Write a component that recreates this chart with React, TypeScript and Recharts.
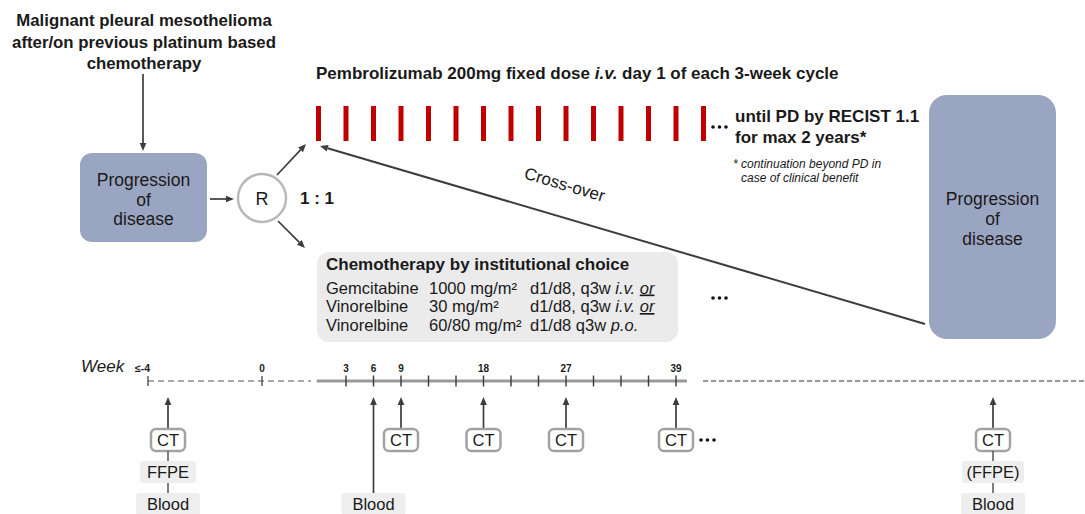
import React from 'react';
import {
  ComposedChart,
  XAxis,
  YAxis,
  Scatter,
  ReferenceArea,
  ReferenceLine,
  ReferenceDot,
} from 'recharts';

const WIDTH = 1085;
const HEIGHT = 514;
const FONT = '"Liberation Sans", Arial, Helvetica, sans-serif';
const INK = '#1a1a1a';
const ARROW = '#3d3d3d';
const SLATE = '#9aa5c1';
const RED = '#c00000';

// ---- content ----
const populationLines = ['Malignant pleural mesothelioma', 'after/on previous platinum based', 'chemotherapy'];
const progressionLines = ['Progression', 'of', 'disease'];
const randomisation = 'R';
const allocationRatio = '1 : 1';
const pembroTitle = ['Pembrolizumab 200mg fixed dose ', 'i.v.', ' day 1 of each 3-week cycle'];
const pembroWeeks = [0, 3, 6, 9, 12, 15, 18, 21, 24, 27, 30, 33, 36, 39, 42];
const pembroUntil = ['until PD by RECIST 1.1', 'for max 2 years*'];
const pembroFootnote = ['* continuation beyond PD in', 'case of clinical benefit'];
const chemoTitle = 'Chemotherapy by institutional choice';
const chemoDrugs = ['Gemcitabine', 'Vinorelbine', 'Vinorelbine'];
const chemoDoses = ['1000 mg/m²', '30 mg/m²', '60/80 mg/m²'];
const chemoSchedules = ['d1/d8, q3w ', 'd1/d8, q3w ', 'd1/d8 q3w '];
const chemoRoutes = ['i.v.', 'i.v.', 'p.o.'];
const chemoAlternatives = [true, true, false];
const crossOverLabel = 'Cross-over';
const weekLabel = 'Week';
const baselineLabels = ['≤-4', '0'];
const timelineWeeks = [3, 6, 9, 12, 15, 18, 21, 24, 27, 30, 33, 36, 39];
const labelledWeeks = [3, 6, 9, 18, 27, 39];
const ctWeeks = [9, 18, 27, 39];
const bloodOnlyWeeks = [6];
const screeningSamples = ['CT', 'FFPE', 'Blood'];
const progressionSamples = ['CT', '(FFPE)', 'Blood'];

// ---- layout ----
// week axis: week 3 sits at x=346, week 39 at x=676 (schematic, pre-baseline drawn separately)
const PX_PER_WEEK = 330 / 36;
const WEEK_DOMAIN: [number, number] = [3 - 346 / PX_PER_WEEK, 39 + (WIDTH - 676) / PX_PER_WEEK];
const PEMBRO_Y = 123.5;
const TIMELINE_Y = 381;
const ARROW_TIP_Y = 397;
const SAMPLE_ROWS = [440, 472, 504];
const SAMPLE_W: Record<string, number> = { CT: 34, FFPE: 56, '(FFPE)': 62, Blood: 64 };

const ts = (size: number, weight: string = 'normal', style: string = 'normal') => ({
  fontFamily: FONT,
  fontSize: size,
  fontWeight: weight,
  fontStyle: style,
  fill: INK,
});

function textLines(items: string[], cx: number, cy: number, lh: number, style: any, anchor: any = 'middle') {
  const n = items.length;
  return items.map((s, i) => (
    <text key={i} x={cx} y={cy + (i - (n - 1) / 2) * lh + style.fontSize * 0.36} textAnchor={anchor} {...style}>
      {s}
    </text>
  ));
}

function arrowShape(color = ARROW, width = 1.7, head = 8) {
  return (p: any) => {
    const { x1, y1, x2, y2 } = p;
    const a = Math.atan2(y2 - y1, x2 - x1);
    const bx = x2 - head * Math.cos(a);
    const by = y2 - head * Math.sin(a);
    const nx = -Math.sin(a) * head * 0.42;
    const ny = Math.cos(a) * head * 0.42;
    return (
      <g>
        <line x1={x1} y1={y1} x2={bx} y2={by} stroke={color} strokeWidth={width} />
        <polygon points={`${x2},${y2} ${bx + nx},${by + ny} ${bx - nx},${by - ny}`} fill={color} />
      </g>
    );
  };
}

function arrow(key: string, x1: number, y1: number, x2: number, y2: number, width = 1.7) {
  return (
    <ReferenceLine
      key={key}
      xAxisId="px"
      yAxisId="px"
      ifOverflow="visible"
      segment={[{ x: x1, y: y1 }, { x: x2, y: y2 }]}
      shape={arrowShape(ARROW, width)}
    />
  );
}

function rule(key: string, x1: number, y1: number, x2: number, y2: number, stroke: string, width: number, dash?: string) {
  return (
    <ReferenceLine
      key={key}
      xAxisId="px"
      yAxisId="px"
      ifOverflow="visible"
      segment={[{ x: x1, y: y1 }, { x: x2, y: y2 }]}
      stroke={stroke}
      strokeWidth={width}
      strokeDasharray={dash}
    />
  );
}

function panel(
  key: string,
  x1: number,
  y1: number,
  x2: number,
  y2: number,
  fill: string,
  rx: number,
  content?: (r: any) => React.ReactNode,
) {
  return (
    <ReferenceArea
      key={key}
      xAxisId="px"
      yAxisId="px"
      x1={x1}
      x2={x2}
      y1={y1}
      y2={y2}
      ifOverflow="visible"
      shape={(p: any) => (
        <g>
          <rect x={p.x} y={p.y} width={p.width} height={p.height} rx={rx} fill={fill} />
          {content ? content(p) : null}
        </g>
      )}
    />
  );
}

function note(key: string, x: number, y: number, render: (cx: number, cy: number) => React.ReactElement) {
  return (
    <ReferenceDot
      key={key}
      xAxisId="px"
      yAxisId="px"
      x={x}
      y={y}
      r={1}
      ifOverflow="visible"
      shape={(p: any) => render(p.cx, p.cy)}
    />
  );
}

function ellipsis(cx: number, cy: number) {
  return (
    <g>
      {[0, 6.5, 13].map((d) => (
        <circle key={d} cx={cx + d} cy={cy} r={1.8} fill="#111" />
      ))}
    </g>
  );
}

// arrow up to the timeline, then stacked sample boxes (CT framed, others shaded)
function sampleStack(cx: number, samples: string[], firstRow = 0) {
  const top = SAMPLE_ROWS[firstRow] - 11;
  return (
    <g>
      {arrowShape(ARROW, 1.7, 8)({ x1: cx, y1: top, x2: cx, y2: ARROW_TIP_Y })}
      {samples.map((s, i) => {
        const row = SAMPLE_ROWS[firstRow + i];
        const w = SAMPLE_W[s] ?? 60;
        const framed = s === 'CT';
        return (
          <g key={s}>
            {i > 0 ? (
              <line x1={cx} y1={SAMPLE_ROWS[firstRow + i - 1] + 11} x2={cx} y2={row - 11} stroke="#555" strokeWidth={1.5} />
            ) : null}
            <rect
              x={cx - w / 2}
              y={row - 11}
              width={w}
              height={22}
              rx={framed ? 5 : 3}
              fill={framed ? '#ffffff' : '#eeeeee'}
              stroke={framed ? '#a3a3a3' : 'none'}
              strokeWidth={framed ? 2.5 : 0}
            />
            <text x={cx} y={row + 6} textAnchor="middle" {...ts(16.5)}>
              {s}
            </text>
          </g>
        );
      })}
    </g>
  );
}

export default function App() {
  return (
    <div style={{ position: 'absolute', left: 0, top: 0, width: WIDTH, height: HEIGHT, background: '#ffffff' }}>
      <ComposedChart width={WIDTH} height={HEIGHT} margin={{ top: 0, right: 0, bottom: 0, left: 0 }}>
        <XAxis xAxisId="px" type="number" dataKey="x" domain={[0, WIDTH]} allowDataOverflow hide />
        <XAxis xAxisId="week" type="number" dataKey="week" domain={WEEK_DOMAIN} allowDataOverflow hide />
        <YAxis yAxisId="px" type="number" dataKey="y" domain={[0, HEIGHT]} allowDataOverflow reversed hide />

        {/* population and first progression */}
        {note('population', 144, 41.5, (cx, cy) => <g>{textLines(populationLines, cx, cy, 21.5, ts(16.8, 'bold'))}</g>)}
        {arrow('pop-arrow', 143, 74, 143, 151)}
        {panel('pd-left', 80, 153, 207, 242, SLATE, 12, (r) => (
          <g>{textLines(progressionLines, r.x + r.width / 2, r.y + r.height / 2 + 2, 19.5, ts(17.5))}</g>
        ))}
        {arrow('to-r', 210, 199, 234, 199)}
        {note('rand', 262, 198, (cx, cy) => (
          <g>
            <circle cx={cx} cy={cy} r={24} fill="#fff" stroke="#b8b8b8" strokeWidth={2.5} />
            <text x={cx} y={cy + 6.5} textAnchor="middle" {...ts(18)}>
              {randomisation}
            </text>
          </g>
        ))}
        {arrow('to-pembro', 277, 175, 306, 144)}
        {arrow('to-chemo', 278, 221, 305, 248)}
        {note('ratio', 300, 204, (cx, cy) => (
          <text x={cx} y={cy} {...ts(17, 'bold')}>
            {allocationRatio}
          </text>
        ))}

        {/* pembrolizumab arm */}
        {note('pembro-title', 316, 79, (cx, cy) => (
          <text x={cx} y={cy} {...ts(17, 'bold')}>
            {pembroTitle[0]}
            <tspan fontStyle="italic">{pembroTitle[1]}</tspan>
            {pembroTitle[2]}
          </text>
        ))}
        <Scatter
          xAxisId="week"
          yAxisId="px"
          data={pembroWeeks.map((week) => ({ week, y: PEMBRO_Y }))}
          isAnimationActive={false}
          shape={(p: any) => <rect x={p.cx - 2.5} y={p.cy - 17.5} width={5} height={35} fill={RED} />}
        />
        {note('pembro-more', 713, 127, (cx, cy) => ellipsis(cx, cy))}
        {note('pembro-until', 735, 122, (cx, cy) => (
          <g>
            {pembroUntil.map((s, i) => (
              <text key={i} x={cx} y={cy + i * 21} {...ts(17, 'bold')}>
                {s}
              </text>
            ))}
          </g>
        ))}
        {note('pembro-foot', 733, 168, (cx, cy) => (
          <g>
            <text x={cx} y={cy} {...ts(12, 'normal', 'italic')}>
              {pembroFootnote[0]}
            </text>
            <text x={cx + 8} y={cy + 14} {...ts(12, 'normal', 'italic')}>
              {pembroFootnote[1]}
            </text>
          </g>
        ))}

        {/* progression on study + cross-over */}
        {panel('pd-right', 929, 95, 1056, 339, SLATE, 18, (r) => (
          <g>{textLines(progressionLines, r.x + r.width / 2, 219, 20, ts(17.5))}</g>
        ))}
        {arrow('cross-over', 925, 324, 320, 146, 2)}
        {note('cross-label', 563, 190, (cx, cy) => (
          <text x={cx} y={cy} textAnchor="middle" transform={`rotate(16.4 ${cx} ${cy})`} {...ts(17)}>
            {crossOverLabel}
          </text>
        ))}

        {/* chemotherapy arm */}
        {panel('chemo', 317, 252, 678, 342, '#ebebeb', 12, (r) => (
          <g>
            <text x={r.x + 9} y={r.y + 18} {...ts(17, 'bold')}>
              {chemoTitle}
            </text>
            {chemoDrugs.map((d, i) => {
              const y = r.y + 41.5 + i * 18.5;
              return (
                <g key={i}>
                  <text x={r.x + 9} y={y} {...ts(16.5)}>
                    {d}
                  </text>
                  <text x={r.x + 112} y={y} {...ts(16.5)}>
                    {chemoDoses[i]}
                  </text>
                  <text x={r.x + 213} y={y} {...ts(16.5)} style={{ whiteSpace: 'pre' }}>
                    {chemoSchedules[i]}
                    <tspan fontStyle="italic">{chemoRoutes[i]}</tspan>
                    {chemoAlternatives[i] ? ' ' : ''}
                    {chemoAlternatives[i] ? (
                      <tspan fontStyle="italic" textDecoration="underline">
                        or
                      </tspan>
                    ) : null}
                  </text>
                </g>
              );
            })}
          </g>
        ))}
        {note('chemo-more', 713, 298, (cx, cy) => ellipsis(cx, cy))}

        {/* timeline */}
        {note('week-label', 81, 372, (cx, cy) => (
          <text x={cx} y={cy} {...ts(17, 'normal', 'italic')}>
            {weekLabel}
          </text>
        ))}
        {rule('pre-baseline', 148, TIMELINE_Y, 311, TIMELINE_Y, '#555', 1.2, '6 4')}
        {rule('tick-screen', 148, TIMELINE_Y - 5, 148, TIMELINE_Y + 5, '#444', 1.3)}
        {rule('tick-zero', 262, TIMELINE_Y - 5, 262, TIMELINE_Y + 5, '#444', 1.3)}
        {note('lab-screen', 142.5, 372, (cx, cy) => (
          <text x={cx} y={cy} textAnchor="middle" {...ts(10.5, 'bold')}>
            {baselineLabels[0]}
          </text>
        ))}
        {note('lab-zero', 262, 372, (cx, cy) => (
          <text x={cx} y={cy} textAnchor="middle" {...ts(10, 'bold')}>
            {baselineLabels[1]}
          </text>
        ))}
        <ReferenceLine
          xAxisId="week"
          yAxisId="px"
          ifOverflow="visible"
          segment={[{ x: -0.2, y: TIMELINE_Y }, { x: 40.2, y: TIMELINE_Y }]}
          stroke="#9a9a9a"
          strokeWidth={3}
        />
        <Scatter
          xAxisId="week"
          yAxisId="px"
          data={timelineWeeks.map((week) => ({ week, y: TIMELINE_Y }))}
          isAnimationActive={false}
          shape={(p: any) => (
            <g>
              <line x1={p.cx} y1={p.cy - 5.5} x2={p.cx} y2={p.cy + 5.5} stroke="#3a3a3a" strokeWidth={1.4} />
              {labelledWeeks.includes(p.payload.week) ? (
                <text x={p.cx} y={p.cy - 9} textAnchor="middle" {...ts(10, 'bold')}>
                  {p.payload.week}
                </text>
              ) : null}
            </g>
          )}
        />
        {rule('post-timeline', 703, TIMELINE_Y, WIDTH, TIMELINE_Y, '#777', 1.5, '5 3')}

        {/* assessments */}
        {note('screening', 168, SAMPLE_ROWS[0], (cx) => sampleStack(cx, screeningSamples))}
        <Scatter
          xAxisId="week"
          yAxisId="px"
          data={bloodOnlyWeeks.map((week) => ({ week, y: SAMPLE_ROWS[2] }))}
          isAnimationActive={false}
          shape={(p: any) => sampleStack(p.cx, ['Blood'], 2)}
        />
        <Scatter
          xAxisId="week"
          yAxisId="px"
          data={ctWeeks.map((week) => ({ week, y: SAMPLE_ROWS[0] }))}
          isAnimationActive={false}
          shape={(p: any) => sampleStack(p.cx, ['CT'])}
        />
        {note('ct-more', 701, 440, (cx, cy) => ellipsis(cx, cy))}
        {note('at-progression', 993, SAMPLE_ROWS[0], (cx) => sampleStack(cx, progressionSamples))}
      </ComposedChart>
    </div>
  );
}
